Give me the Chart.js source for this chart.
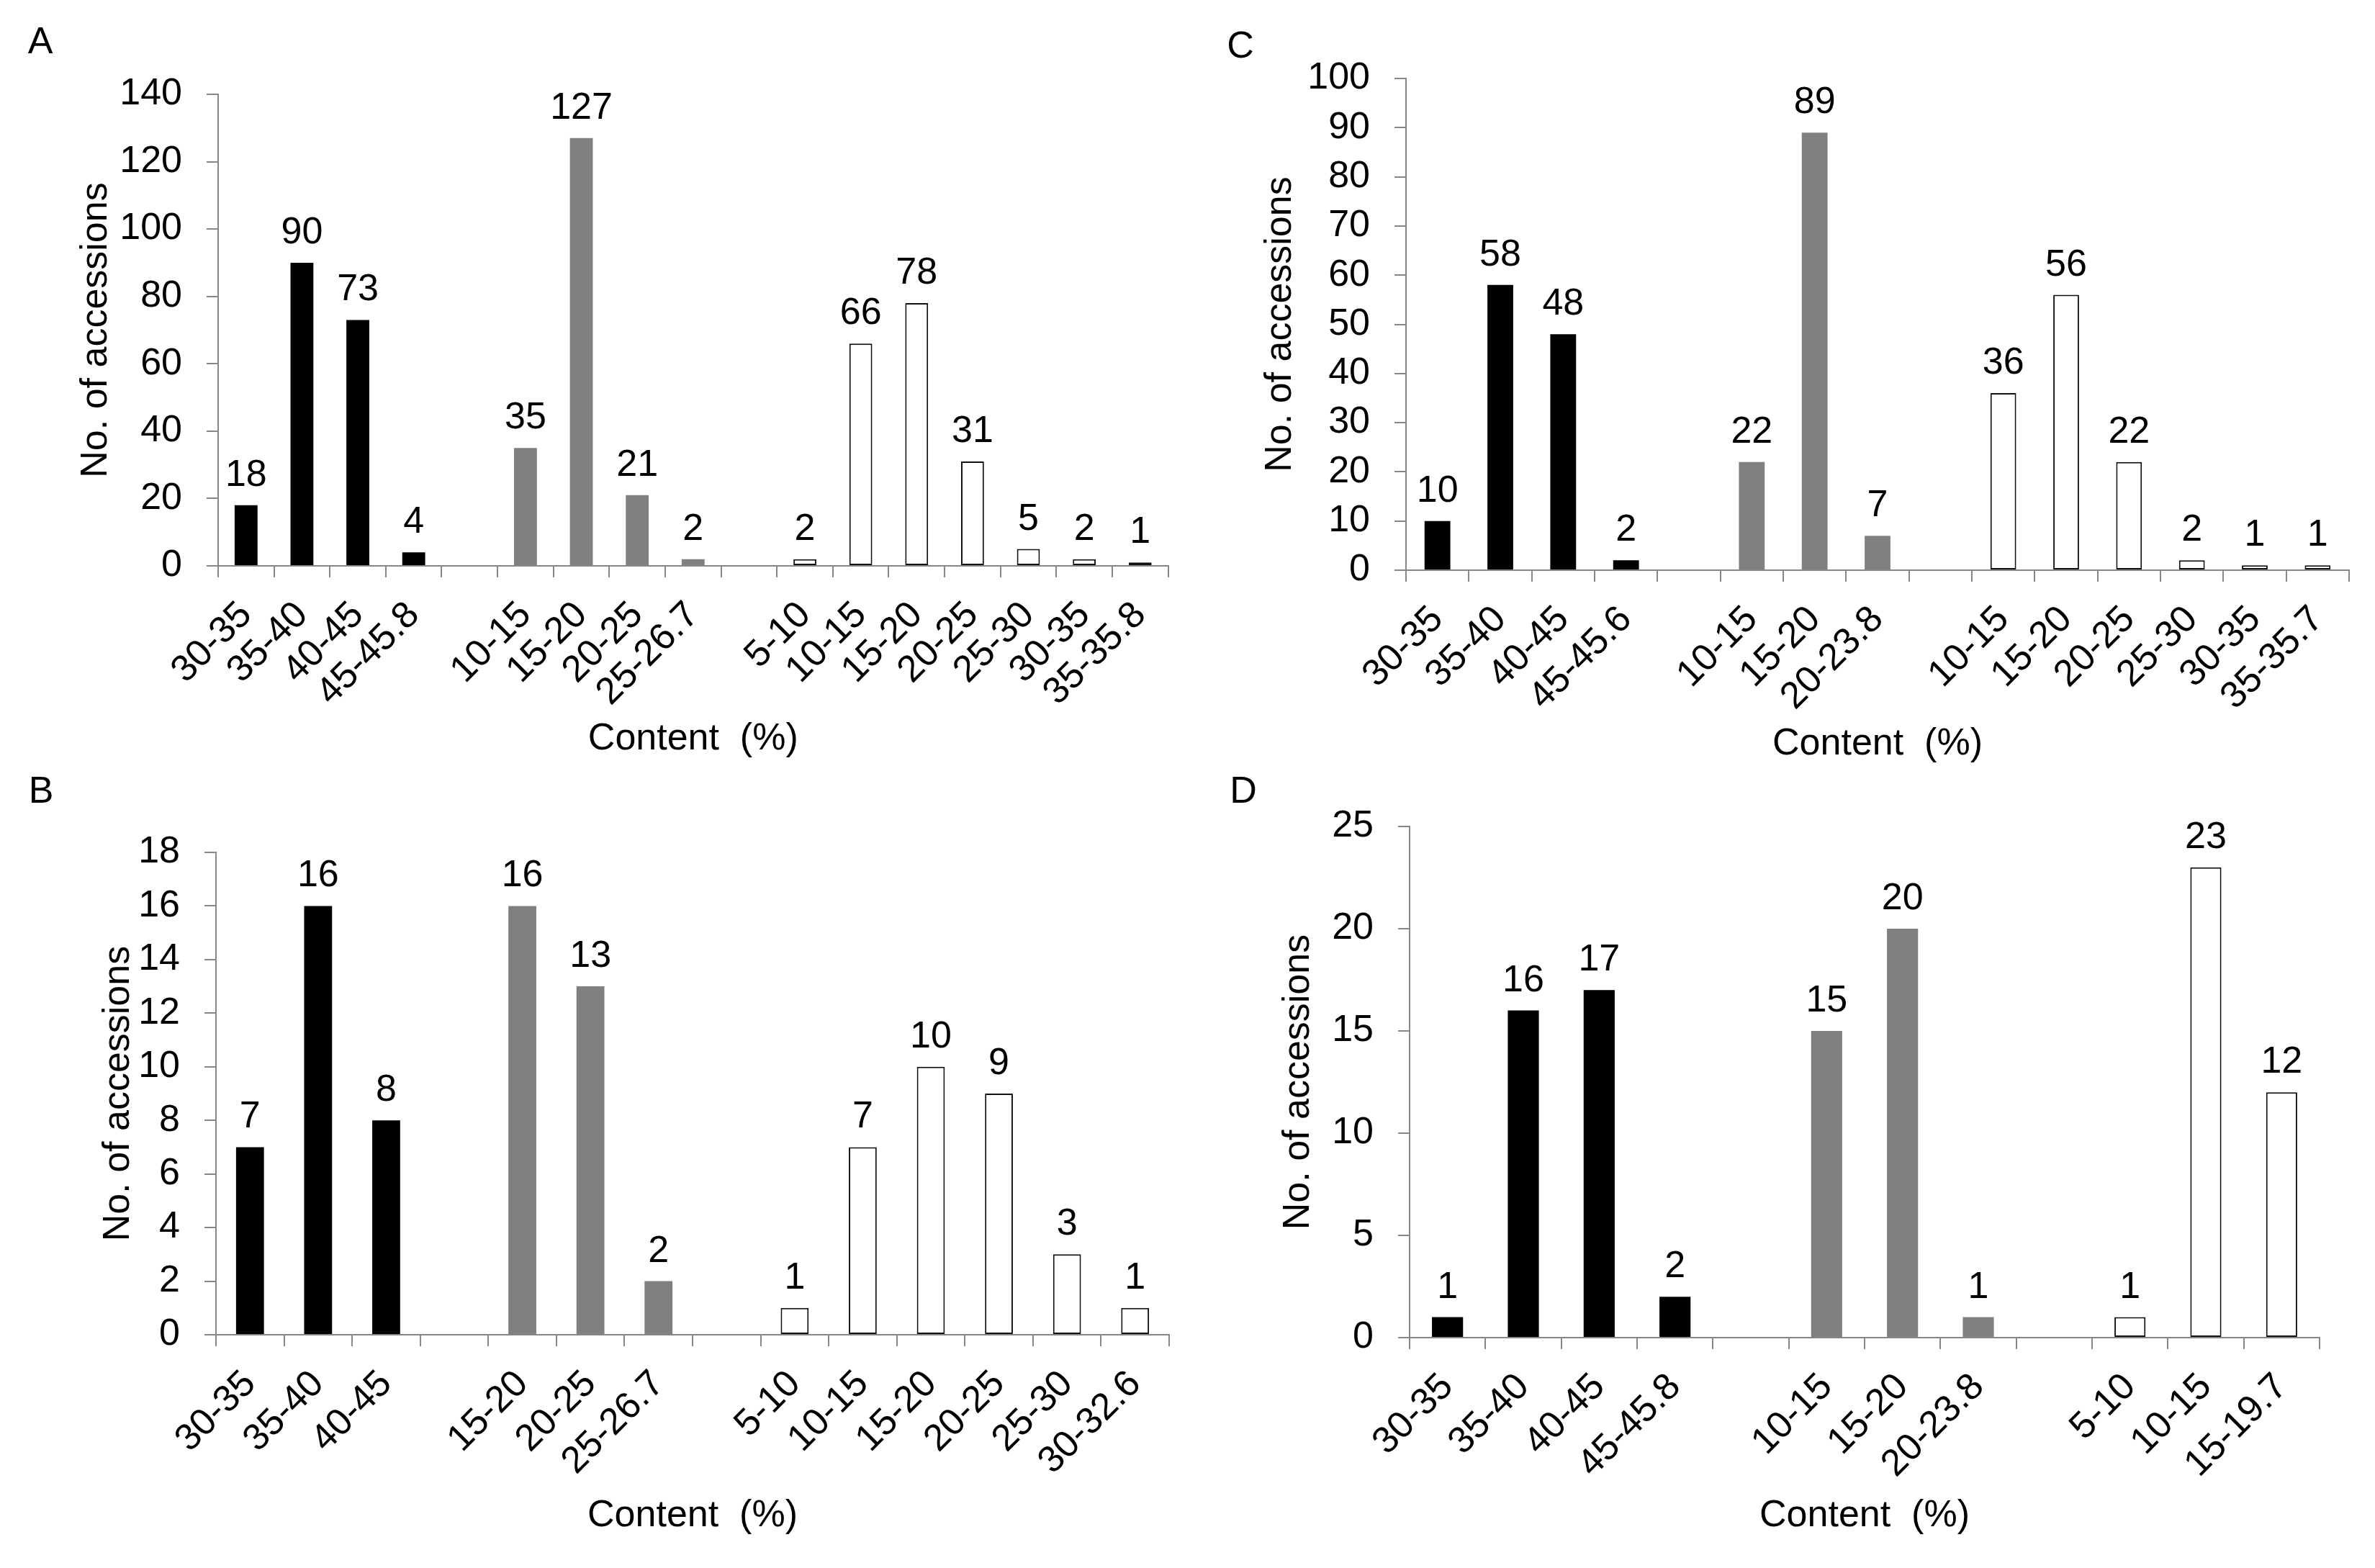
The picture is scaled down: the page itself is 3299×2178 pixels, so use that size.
<!DOCTYPE html>
<html>
<head>
<meta charset="utf-8">
<script src="https://cdn.jsdelivr.net/npm/chart.js@4.4.1/dist/chart.umd.min.js"></script>
<style>
  body { margin: 0; background: #fff; width: 3299px; height: 2178px; position: relative; overflow: hidden; }
  canvas { position: absolute; }
</style>
</head>
<body>
<canvas id="chartA" width="1650" height="1070" style="left:0px;top:0px"></canvas>
<canvas id="chartC" width="1649" height="1070" style="left:1650px;top:0px"></canvas>
<canvas id="chartB" width="1650" height="1108" style="left:0px;top:1070px"></canvas>
<canvas id="chartD" width="1649" height="1108" style="left:1650px;top:1070px"></canvas>
<script>
// panel A
const aLabelsBlack = ['30-35', '35-40', '40-45', '45-45.8'];
const aBlack = [18, 90, 73, 4];
const aLabelsGray = ['10-15', '15-20', '20-25', '25-26.7'];
const aGray = [35, 127, 21, 2];
const aLabelsWhite = ['5-10', '10-15', '15-20', '20-25', '25-30', '30-35', '35-35.8'];
const aWhite = [2, 66, 78, 31, 5, 2, 1];

// panel B
const bLabelsBlack = ['30-35', '35-40', '40-45'];
const bBlack = [7, 16, 8];
const bLabelsGray = ['15-20', '20-25', '25-26.7'];
const bGray = [16, 13, 2];
const bLabelsWhite = ['5-10', '10-15', '15-20', '20-25', '25-30', '30-32.6'];
const bWhite = [1, 7, 10, 9, 3, 1];

// panel C
const cLabelsBlack = ['30-35', '35-40', '40-45', '45-45.6'];
const cBlack = [10, 58, 48, 2];
const cLabelsGray = ['10-15', '15-20', '20-23.8'];
const cGray = [22, 89, 7];
const cLabelsWhite = ['10-15', '15-20', '20-25', '25-30', '30-35', '35-35.7'];
const cWhite = [36, 56, 22, 2, 1, 1];

// panel D
const dLabelsBlack = ['30-35', '35-40', '40-45', '45-45.8'];
const dBlack = [1, 16, 17, 2];
const dLabelsGray = ['10-15', '15-20', '20-23.8'];
const dGray = [15, 20, 1];
const dLabelsWhite = ['5-10', '10-15', '15-19.7'];
const dWhite = [1, 23, 12];

const FONT = '"Liberation Sans", Arial, sans-serif';
const AXIS_GREY = '#878787';
Chart.defaults.font.family = FONT;
Chart.defaults.color = '#000';

const groupStyles = [
  { backgroundColor: '#000000', borderColor: '#000000', borderWidth: 0 },
  { backgroundColor: '#808080', borderColor: '#808080', borderWidth: 0 },
  { backgroundColor: '#ffffff', borderColor: '#111111', borderWidth: 2 },
];

// one empty category between groups, each group its own dataset (stacked so no splitting)
function buildPanel(groups) {
  const labels = [];
  const slots = [];
  groups.forEach((g, gi) => {
    if (gi > 0) { labels.push(''); slots.push(null); }
    g.labels.forEach((l, i) => { labels.push(l); slots.push([gi, g.values[i]]); });
  });
  const datasets = groups.map((g, gi) => Object.assign({
    data: slots.map(s => (s && s[0] === gi) ? s[1] : null),
    barPercentage: 0.41,
    categoryPercentage: 1.0,
    borderSkipped: false,
  }, groupStyles[gi]));
  return { labels, datasets };
}

const valueLabels = {
  id: 'valueLabels',
  afterDatasetsDraw(chart) {
    const ctx = chart.ctx;
    ctx.save();
    ctx.font = '52px ' + FONT;
    ctx.fillStyle = '#000';
    ctx.textAlign = 'center';
    ctx.textBaseline = 'alphabetic';
    chart.data.datasets.forEach((ds, di) => {
      const meta = chart.getDatasetMeta(di);
      meta.data.forEach((bar, i) => {
        const v = ds.data[i];
        if (v === null || v === undefined) return;
        ctx.fillText(String(v), bar.x, bar.y - 27);
      });
    });
    ctx.restore();
  }
};

const panelLetter = {
  id: 'panelLetter',
  afterDraw(chart, args, opts) {
    const ctx = chart.ctx;
    ctx.save();
    ctx.font = '52px ' + FONT;
    ctx.fillStyle = '#000';
    ctx.textAlign = 'center';
    ctx.textBaseline = 'alphabetic';
    ctx.fillText(opts.text, opts.x, opts.y);
    ctx.restore();
  }
};

function makeChart(id, p) {
  const built = buildPanel(p.groups);
  const canvas = document.getElementById(id);
  const W = canvas.width, H = canvas.height;
  new Chart(canvas, {
    type: 'bar',
    data: built,
    options: {
      responsive: false,
      animation: false,
      layout: { padding: { top: p.area.top, right: W - p.area.right, bottom: 0, left: 0 } },
      plugins: {
        legend: { display: false },
        tooltip: { enabled: false },
        panelLetter: p.letter,
      },
      scales: {
        x: {
          stacked: true,
          grid: { display: true, drawOnChartArea: false, drawTicks: true, tickLength: 16, color: AXIS_GREY, lineWidth: 2, offset: true },
          border: { display: true, color: AXIS_GREY, width: 2 },
          ticks: { autoSkip: false, minRotation: 45, maxRotation: 45, padding: 22, font: { size: 52 }, color: '#000' },
          title: { display: true, text: 'Content  (%)', font: { size: 52 }, color: '#000', padding: { top: 0, bottom: p.xTitlePad } },
          afterFit: s => { s.height = H - p.area.bottom; },
        },
        y: {
          stacked: true,
          min: 0,
          max: p.yMax,
          grid: { display: true, drawOnChartArea: false, drawTicks: true, tickLength: 16, color: AXIS_GREY, lineWidth: 2 },
          border: { display: true, color: AXIS_GREY, width: 2 },
          ticks: { stepSize: p.yStep, padding: 34, font: { size: 52 }, color: '#000' },
          title: { display: true, text: 'No. of accessions', font: { size: 52 }, color: '#000', padding: { top: p.yTitlePad, bottom: 0 } },
          afterFit: s => { s.width = p.area.left; },
        },
      },
    },
    plugins: [valueLabels, panelLetter],
  });
}

makeChart('chartA', {
  groups: [
    { labels: aLabelsBlack, values: aBlack },
    { labels: aLabelsGray, values: aGray },
    { labels: aLabelsWhite, values: aWhite },
  ],
  yMax: 140, yStep: 20,
  area: { left: 303, top: 131, right: 1646, bottom: 786 },
  xTitlePad: 12, yTitlePad: 102,
  letter: { text: 'A', x: 56, y: 74 },
});

makeChart('chartC', {
  groups: [
    { labels: cLabelsBlack, values: cBlack },
    { labels: cLabelsGray, values: cGray },
    { labels: cLabelsWhite, values: cWhite },
  ],
  yMax: 100, yStep: 10,
  area: { left: 303, top: 109, right: 1613, bottom: 792 },
  xTitlePad: 5, yTitlePad: 97,
  letter: { text: 'C', x: 73, y: 80 },
});

makeChart('chartB', {
  groups: [
    { labels: bLabelsBlack, values: bBlack },
    { labels: bLabelsGray, values: bGray },
    { labels: bLabelsWhite, values: bWhite },
  ],
  yMax: 18, yStep: 2,
  area: { left: 300, top: 114, right: 1624, bottom: 784 },
  xTitlePad: 41, yTitlePad: 133,
  letter: { text: 'B', x: 57, y: 45 },
});

makeChart('chartD', {
  groups: [
    { labels: dLabelsBlack, values: dBlack },
    { labels: dLabelsGray, values: dGray },
    { labels: dLabelsWhite, values: dWhite },
  ],
  yMax: 25, yStep: 5,
  area: { left: 308, top: 78, right: 1572, bottom: 788 },
  xTitlePad: 41, yTitlePad: 122,
  letter: { text: 'D', x: 77, y: 45 },
});
</script>
</body>
</html>
